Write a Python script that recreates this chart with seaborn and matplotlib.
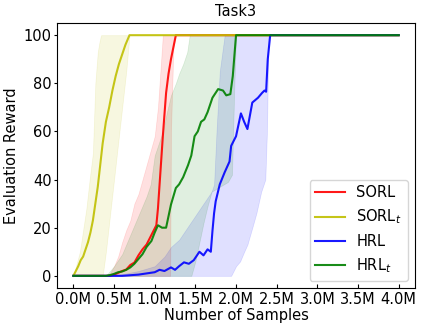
import numpy as np
import pandas as pd
import seaborn as sns
import matplotlib
matplotlib.use("Agg")
import matplotlib.pyplot as plt

# ---- data (millions of samples, evaluation reward) ----
labels = ["SORL", "SORL$_t$", "HRL", "HRL$_t$"]
colors = ["r", "y", "b", "g"]

# SORL
sorl_x = [0, 0.45, 0.5, 0.55, 0.6, 0.65, 0.7, 0.75, 0.8, 0.85, 0.9, 0.96, 1.02,
          1.04, 1.06, 1.08, 1.10, 1.12, 1.14, 1.17, 1.20, 1.23, 1.26, 4.0]
sorl_y = [0, 0, 0.5, 1.2, 2.0, 2.6, 4.5, 5.5, 8.5, 11, 13, 17, 21,
          28, 38, 48, 58, 67, 76, 84, 90, 95, 100, 100]
sorl_band_x = [0, 0.4, 0.45, 0.5, 0.55, 0.6, 0.65, 0.7, 0.75, 0.8, 0.85, 0.9, 0.95,
               1.0, 1.04, 1.07, 1.1, 1.15, 1.19, 1.2, 1.23, 1.26, 4.0]
sorl_upper = [0, 0, 1, 4, 8, 14, 19, 23, 30, 34, 40, 46, 52,
              58, 70, 85, 100, 100, 100, 100, 100, 100, 100]
sorl_lower = [0, 0, 0, 0, 0, 0, 0, 0, 0, 0, 0, 0, 0,
              0, 0, 0, 0, 0, 0, 60, 95, 100, 100]

# SORL_t
sorlt_x = [0, 0.03, 0.06, 0.09, 0.12, 0.15, 0.18, 0.21, 0.24, 0.27, 0.3, 0.33, 0.36,
           0.4, 0.44, 0.48, 0.52, 0.56, 0.6, 0.64, 0.69, 4.0]
sorlt_y = [0, 2, 4, 6.5, 8, 11, 14, 18, 23, 30, 37, 46, 55,
           64, 70, 77, 83, 88, 92, 96, 100, 100]
sorlt_band_x = [0, 0.04, 0.08, 0.12, 0.16, 0.2, 0.24, 0.27, 0.3, 0.32, 0.34, 0.36,
                0.4, 0.45, 0.5, 0.55, 0.6, 0.65, 0.69, 4.0]
sorlt_upper = [0, 5, 10, 19, 28, 40, 51, 80, 93, 97, 100, 100,
               100, 100, 100, 100, 100, 100, 100, 100]
sorlt_lower = [0, 0, 0, 0, 0, 0, 0, 0, 0, 0, 0, 0,
               10, 25, 40, 55, 70, 85, 100, 100]

# HRL
hrl_x = [0, 0.6, 0.8, 0.9, 1.0, 1.06, 1.12, 1.2, 1.25, 1.3, 1.36, 1.42, 1.48, 1.55,
         1.6, 1.65, 1.69, 1.71, 1.73, 1.75, 1.8, 1.86, 1.92, 1.94, 2.0, 2.06,
         2.1, 2.14, 2.2, 2.27, 2.32, 2.35, 2.37, 2.39, 2.42, 4.0]
hrl_y = [0, 0, 0.5, 1.0, 1.5, 2.5, 2.0, 3.5, 2.5, 4.0, 5.6, 5.0, 6.5, 10,
         8.5, 11, 10, 18.6, 26, 31, 38, 43, 47.5, 54, 58, 67.5,
         64, 61, 72, 74, 76, 77, 76.5, 90, 100, 100]
hrl_band_x = [0, 0.5, 0.8, 1.0, 1.12, 1.2, 1.3, 1.4, 1.5, 1.6, 1.7, 1.73, 1.76, 1.8,
              1.84, 1.86, 1.94, 2.0, 2.05, 2.1, 2.14, 2.2, 2.25, 2.31, 2.36,
              2.38, 2.4, 4.0]
hrl_upper = [0, 0, 2, 4, 8, 12, 15, 20, 25, 30, 35, 38, 60, 85,
             95, 100, 100, 100, 100, 100, 100, 100, 100, 100, 100,
             100, 100, 100]
hrl_lower = [0, 0, 0, 0, 0, 0, 0, 0, 0, 0, 0, 0, 0, 0,
             0, 0, 0, 4, 6, 10, 13, 20, 26, 35, 40,
             60, 100, 100]

# HRL_t
hrlt_x = [0, 0.4, 0.45, 0.5, 0.55, 0.6, 0.65, 0.7, 0.75, 0.8, 0.85, 0.9, 0.96, 1.0,
          1.04, 1.09, 1.14, 1.2, 1.26, 1.3, 1.35, 1.41, 1.45, 1.49, 1.53, 1.57,
          1.61, 1.65, 1.71, 1.78, 1.84, 1.88, 1.93, 1.96, 2.0, 4.0]
hrlt_y = [0, 0, 0.3, 0.8, 1.5, 1.8, 2.5, 3.5, 5, 7, 9, 12, 14.5, 18,
          21, 20, 20, 29.6, 36.5, 38, 41, 46, 50, 58, 60, 64,
          65, 68, 74, 77.6, 77, 75, 75.5, 83, 100, 100]
hrlt_band_x = [0, 0.4, 0.5, 0.6, 0.7, 0.8, 0.9, 0.95, 1.0, 1.05, 1.1, 1.15, 1.2,
               1.26, 1.3, 1.35, 1.4, 1.43, 1.45, 1.5, 1.55, 1.6, 1.65, 1.7, 1.8,
               1.9, 1.95, 1.98, 2.0, 4.0]
hrlt_upper = [0, 0, 4, 9, 17, 25, 33, 38, 50, 55, 60, 68, 75,
              80, 84, 88, 93, 100, 100, 100, 100, 100, 100, 100, 100,
              100, 100, 100, 100, 100]
hrlt_lower = [0, 0, 0, 0, 0, 0, 0, 0, 0, 0, 0, 0, 0,
              0, 0, 0, 0, 0, 0, 6, 14, 22, 29, 35, 37,
              39, 42, 80, 100, 100]

series = [
    (sorl_x, sorl_y, sorl_band_x, sorl_lower, sorl_upper),
    (sorlt_x, sorlt_y, sorlt_band_x, sorlt_lower, sorlt_upper),
    (hrl_x, hrl_y, hrl_band_x, hrl_lower, hrl_upper),
    (hrlt_x, hrlt_y, hrlt_band_x, hrlt_lower, hrlt_upper),
]

xticks = [0, 0.5, 1.0, 1.5, 2.0, 2.5, 3.0, 3.5, 4.0]

# ---- plot ----
plt.rcdefaults()
plt.rcParams["font.family"] = ["DejaVu Sans"]

fig, ax = plt.subplots(figsize=(4.23, 3.26), dpi=100)
fig.subplots_adjust(left=0.135, right=0.981, top=0.929, bottom=0.117)

for (x, y, bx, lo, up), lab, c in zip(series, labels, colors):
    sns.lineplot(x=x, y=y, color=c, label=lab, lw=1.5, alpha=0.9, ax=ax)
    ax.fill_between(bx, lo, up, color=c, alpha=0.12, lw=0.5)

ax.set_xticks(xticks)
ax.set_xticklabels([f"{t:.1f}M" for t in xticks])
ax.set_yticks([0, 20, 40, 60, 80, 100])
ax.tick_params(axis="x", direction="in", length=3, pad=3, labelsize=10.5)
ax.tick_params(axis="y", direction="out", length=2.5, pad=1.5, labelsize=10.5)

ax.set_title("Task3", fontsize=10.5, pad=5)
ax.set_xlabel("Number of Samples", fontsize=10.5, labelpad=1)
ax.set_ylabel("Evaluation Reward", fontsize=10.5, labelpad=3)
ax.legend(loc="lower right", fontsize=10.5, handlelength=2.0)

fig.savefig("out.png", dpi=100)
